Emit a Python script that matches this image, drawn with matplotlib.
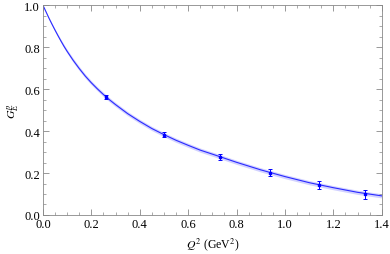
import numpy as np
import matplotlib
matplotlib.use("Agg")
from matplotlib import pyplot as plt
from matplotlib.ticker import MultipleLocator, FormatStrFormatter

plt.rcParams['font.family'] = ['Liberation Serif', 'DejaVu Serif']
plt.rcParams['mathtext.fontset'] = 'stix'

# fit curve
q_fit = [0.0, 0.0125, 0.025, 0.0375, 0.05, 0.0625, 0.075, 0.0875, 0.1, 0.125,
         0.15, 0.175, 0.2, 0.225, 0.25, 0.275, 0.3, 0.35, 0.4, 0.45, 0.5,
         0.55, 0.6, 0.65, 0.7, 0.8, 0.9, 1.0, 1.1, 1.2, 1.3, 1.4]
g_fit = [1.0, 0.969, 0.938, 0.909, 0.881, 0.854, 0.828, 0.803, 0.780, 0.737,
         0.698, 0.662, 0.630, 0.601, 0.574, 0.549, 0.526, 0.483, 0.446, 0.412,
         0.383, 0.356, 0.332, 0.309, 0.290, 0.251, 0.215, 0.183, 0.154, 0.130,
         0.108, 0.091]
# half width of the error band
g_band = [0.0, 0.002, 0.004, 0.005, 0.006, 0.007, 0.008, 0.009, 0.009, 0.010,
          0.010, 0.010, 0.010, 0.010, 0.010, 0.010, 0.010, 0.010, 0.010, 0.010,
          0.010, 0.010, 0.010, 0.010, 0.010, 0.010, 0.010, 0.010, 0.010, 0.010,
          0.010, 0.010]

# data points
q_dat = [0.26, 0.50, 0.73, 0.94, 1.14, 1.33]
g_dat = [0.563, 0.383, 0.278, 0.202, 0.143, 0.098]
g_err = [0.008, 0.012, 0.014, 0.018, 0.017, 0.020]

q_fit = np.array(q_fit)
g_fit = np.array(g_fit)
g_band = np.array(g_band)

fig = plt.figure(figsize=(3.9, 2.55), dpi=100)
ax = fig.add_axes([0.110, 0.153, 0.869, 0.823])

ax.fill_between(q_fit, g_fit - g_band, g_fit + g_band, color='#d2d2ff', lw=0)
ax.plot(q_fit, g_fit, color='#2a2aff', lw=0.8)
ax.errorbar(q_dat, g_dat, yerr=g_err, fmt='s', color='#0000ff', ms=2.0,
            elinewidth=0.7, capsize=1.5, capthick=0.7)

ax.set_xlim(0, 1.4)
ax.set_ylim(0, 1.0)
ax.xaxis.set_major_locator(MultipleLocator(0.2))
ax.xaxis.set_minor_locator(MultipleLocator(0.05))
ax.yaxis.set_major_locator(MultipleLocator(0.2))
ax.yaxis.set_minor_locator(MultipleLocator(0.05))
ax.tick_params(which='both', direction='in', top=True, right=True,
               color='#888888', labelsize=9, pad=2)
ax.tick_params(which='major', length=4, width=0.6)
ax.tick_params(which='minor', length=2.2, width=0.5)
ax.xaxis.set_major_formatter(FormatStrFormatter('%.1f'))
ax.yaxis.set_major_formatter(FormatStrFormatter('%.1f'))
for s in ax.spines.values():
    s.set_color('#888888')
    s.set_linewidth(0.6)

ax.set_xlabel(r'$Q^2$ (GeV$^2$)', fontsize=8.5, labelpad=4)
ax.set_ylabel(r'$G_E^p$', fontsize=8.5, labelpad=2)

fig.savefig('out.png', dpi=100)
